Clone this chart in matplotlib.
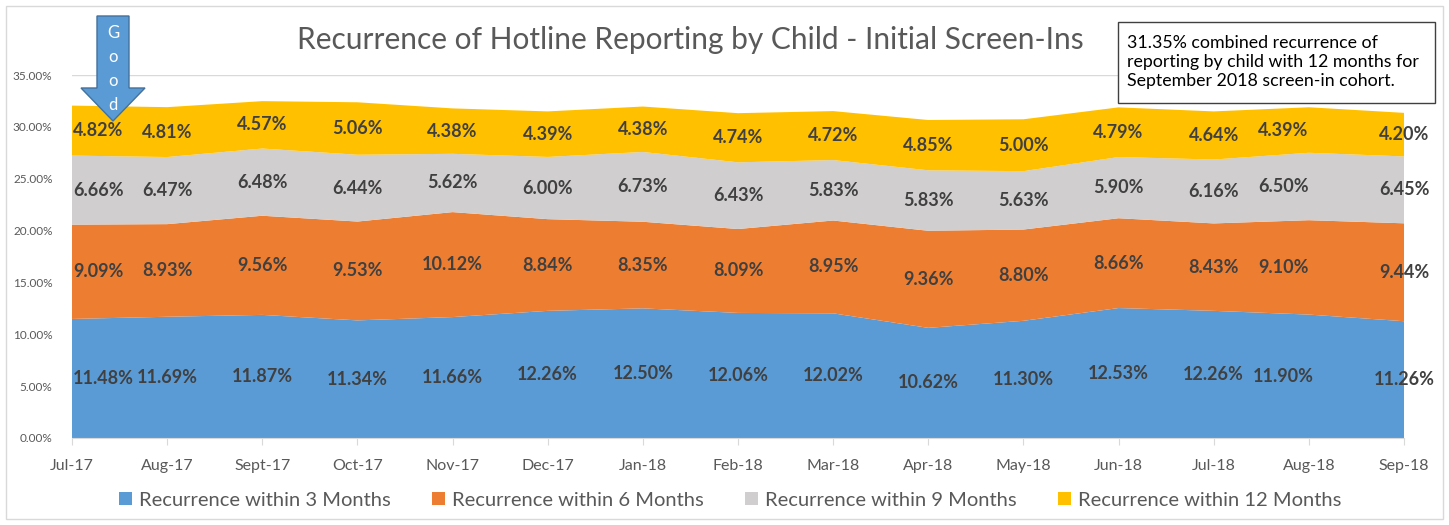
import numpy as np
import matplotlib
matplotlib.use("Agg")
import matplotlib.pyplot as plt
from matplotlib.patches import Polygon, Rectangle

plt.rcParams['font.family'] = ['Lato', 'DejaVu Sans']

months = ['Jul-17', 'Aug-17', 'Sept-17', 'Oct-17', 'Nov-17', 'Dec-17', 'Jan-18',
          'Feb-18', 'Mar-18', 'Apr-18', 'May-18', 'Jun-18', 'Jul-18', 'Aug-18', 'Sep-18']
within_3 = [11.48, 11.69, 11.87, 11.34, 11.66, 12.26, 12.50, 12.06, 12.02, 10.62, 11.30, 12.53, 12.26, 11.90, 11.26]
within_6 = [9.09, 8.93, 9.56, 9.53, 10.12, 8.84, 8.35, 8.09, 8.95, 9.36, 8.80, 8.66, 8.43, 9.10, 9.44]
within_9 = [6.66, 6.47, 6.48, 6.44, 5.62, 6.00, 6.73, 6.43, 5.83, 5.83, 5.63, 5.90, 6.16, 6.50, 6.45]
within_12 = [4.82, 4.81, 4.57, 5.06, 4.38, 4.39, 4.38, 4.74, 4.72, 4.85, 5.00, 4.79, 4.64, 4.39, 4.20]
series_names = ['Recurrence within 3 Months', 'Recurrence within 6 Months',
                'Recurrence within 9 Months', 'Recurrence within 12 Months']
colors = ['#5B9BD5', '#ED7D31', '#D0CECE', '#FFC000']
note = "31.35% combined recurrence of\nreporting by child with 12 months for\nSeptember 2018 screen-in cohort."

W, H = 1449, 525
fig = plt.figure(figsize=(W / 100, H / 100), dpi=100)
ax = fig.add_axes([72 / W, 1 - 438 / H, (1404 - 72) / W, (438 - 75) / H])

x = np.arange(len(months))
data = np.array([within_3, within_6, within_9, within_12]) / 100
ax.stackplot(x, data, colors=colors, labels=series_names, zorder=2)

ax.set_xlim(0, len(months) - 1)
ax.set_ylim(0, 0.35)
ax.set_yticks(np.arange(0, 0.351, 0.05))
ax.yaxis.set_major_formatter(plt.FuncFormatter(lambda v, p: f"{v*100:.2f}%"))
ax.set_xticks(x)
ax.set_xticklabels(months)
ax.tick_params(axis='y', length=0, labelsize=8.5, labelcolor='#595959', pad=14)
ax.tick_params(axis='x', length=5, color='#D9D9D9', labelsize=11.5, labelcolor='#595959', pad=10)
ax.yaxis.grid(True, color='#D9D9D9', linewidth=1)
ax.set_axisbelow(True)
for s in ['top', 'right', 'left']:
    ax.spines[s].set_visible(False)
ax.spines['bottom'].set_color('#D9D9D9')

# data labels, centred in each band
nudge = {13: -0.27}
bottom = np.zeros(len(months))
for vals in data:
    for i, v in enumerate(vals):
        yc = bottom[i] + v / 2
        xi = i + nudge.get(i, 0)
        ha = 'center'
        if i == 0:
            xi, ha = 0.01, 'left'
        ax.text(xi, yc, f"{v*100:.2f}%", ha=ha, va='center', fontsize=13,
                fontweight='bold', color='#404040', clip_on=False, zorder=3)
    bottom += vals

fig.text(690 / W, 1 - 40 / H, 'Recurrence of Hotline Reporting by Child - Initial Screen-Ins',
         ha='center', va='center', fontsize=21.5, color='#595959')

leg = fig.legend(loc='center', bbox_to_anchor=(730 / W, 1 - 500 / H), ncol=4, frameon=False,
                 fontsize=14.5, handlelength=0.65, handleheight=0.65, columnspacing=2.05,
                 handletextpad=0.35)
for t in leg.get_texts():
    t.set_color('#595959')

# note box
fig.add_artist(Rectangle((1118 / W, 1 - 103 / H), (1435 - 1118) / W, (103 - 22) / H,
                         transform=fig.transFigure, facecolor='white', edgecolor='#404040',
                         linewidth=1, zorder=1))
fig.text(1127 / W, 1 - 62 / H, note, ha='left', va='center', fontsize=12.8, color='black',
         linespacing=1.2, zorder=2)

# "Good" arrow
pts = [(97, 16), (129, 16), (129, 88), (145, 88), (113, 121), (81, 88), (97, 88)]
fig.add_artist(Polygon([(px / W, 1 - py / H) for px, py in pts], closed=True,
                       transform=fig.transFigure, facecolor='#5B9BD5', edgecolor='#41719C',
                       linewidth=1, zorder=5))
for k, ch in enumerate('Good'):
    fig.text(113 / W, 1 - (33 + k * 24) / H, ch, ha='center', va='center', fontsize=12,
             color='white', zorder=6)

# chart border
fig.add_artist(Rectangle((6 / W, 6 / H), (1443 - 6) / W, (519 - 6) / H, transform=fig.transFigure,
                         facecolor='none', edgecolor='#D9D9D9', linewidth=1))

fig.savefig('out.png', dpi=100)
